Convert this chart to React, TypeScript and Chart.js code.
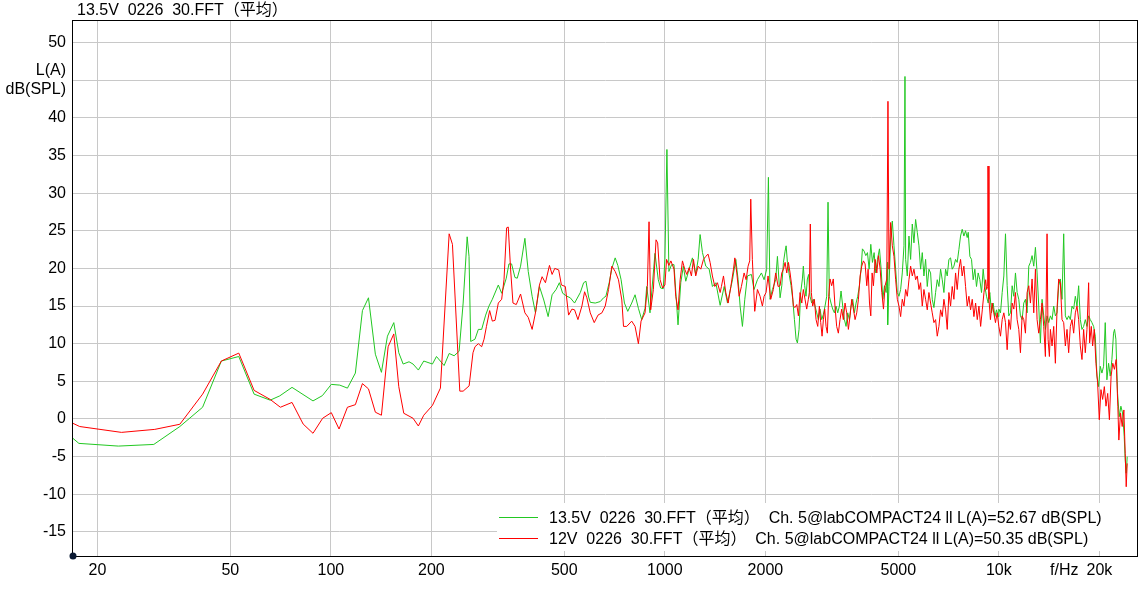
import React, { useEffect, useRef } from "react";
import { Chart, registerables } from "chart.js";

Chart.register(...registerables);

// ---------- tick labels ----------
const X_TICKS = [20, 50, 100, 200, 500, 1000, 2000, 5000, 10000, 15700, 20000];
const X_TICK_LABELS = ["20", "50", "100", "200", "500", "1000", "2000", "5000", "10k", "f/Hz", "20k"];
const AXIS_NAME_TICK = 15700;
const Y_TICKS = [-15, -10, -5, 0, 5, 10, 15, 20, 25, 30, 35, 40, 45, 50];
const Y_UNIT_TICK = 45;
const Y_UNIT_LABEL = ["L(A)", "dB(SPL)"];

const TITLE = "13.5V  0226  30.FFT（平均）";
const SERIES_LABELS = [
  "13.5V  0226  30.FFT（平均）  Ch. 5@labCOMPACT24 ll L(A)=52.67 dB(SPL)",
  "12V  0226  30.FFT（平均）  Ch. 5@labCOMPACT24 ll L(A)=50.35 dB(SPL)",
];

// ---------- series: 13.5V (green) ----------
const greenFreq = [
  16.9, 17.6, 23.1, 29.5, 35.3, 41.3, 47.0, 53.0, 58.9, 65.8, 70.3, 76.5, 88.4, 94.3, 100.3, 106.3, 112.1, 118.4,
  124.3, 129.6, 135.9, 141.7, 147.7, 154.3, 159.7, 164.6, 171.4, 176.2, 182.8, 189.7, 201.4, 207.1, 218.3, 226,
  233.9, 242.1, 248.9, 255.9,
  259.2, 262.2, 270.1, 276.4, 282.8, 290.7, 297.4, 304.4, 317.2, 324.6, 335.1, 341.3, 347.6, 355.7, 361.4, 369.8,
  381.0, 389.9, 400.5, 409.8, 421.2, 434.0, 447.2, 459.6, 472.4, 483.2, 494.3, 509.2, 520.9, 536.6, 558.3, 571.2,
  580.4, 591.2, 597.9, 618.8, 640.5, 655.3, 665.9, 681.3, 693.9, 710.0, 723.0, 739.6, 756.8, 774.3, 795.8, 814.2,
  833.2, 852.5, 872.3, 882.3, 902.6, 934.1, 955.7, 971.2, 989.0, 1000.4, 1014.3, 1028.2, 1047.4,
  1065, 1095, 1116, 1136, 1155, 1182, 1209, 1237, 1258, 1275, 1296, 1326, 1357, 1388, 1421, 1464, 1505, 1540,
  1594, 1631, 1657, 1680, 1707, 1735, 1767, 1816, 1849, 1893, 1946, 1982, 2018, 2042, 2065, 2099, 2147, 2173,
  2213, 2239, 2265, 2291, 2307, 2328, 2360, 2387, 2415, 2443, 2471, 2494, 2522, 2551, 2581, 2598, 2622, 2646,
  2671, 2695, 2720, 2752, 2784, 2816, 2849, 2882, 2915, 2949, 2983, 3017, 3052, 3080, 3108, 3144, 3181, 3218,
  3255, 3293, 3331, 3369, 3408, 3448, 3488, 3528, 3569, 3610, 3652, 3694, 3737, 3780, 3824, 3868, 3904, 3950,
  3996, 4042, 4089, 4136, 4184, 4232, 4281, 4331, 4391, 4442, 4493, 4545, 4598, 4640, 4646,
  4689, 4743, 4798, 4853, 4909, 4966, 5023, 5081, 5139, 5199, 5235, 5259, 5320,
  5381, 5443, 5506, 5569, 5634, 5699, 5765, 5831, 5898, 5966, 6035, 6105, 6175, 6246, 6318, 6391, 6465, 6540,
  6615, 6692, 6769, 6847, 6926, 7006, 7087, 7169, 7251, 7335, 7420, 7505, 7592, 7680, 7768, 7858, 7949, 8041,
  8097, 8190, 8283, 8378, 8475, 8573, 8672, 8772, 8874, 8976, 9080, 9185, 9291, 9398, 9507, 9617, 9728, 9841,
  9954,
  10000, 10115, 10232, 10350, 10469, 10590, 10711, 10835, 10960, 11086, 11214, 11343, 11474, 11606, 11740, 11875,
  12012, 12151, 12291, 12433, 12576, 12721, 12868, 13016, 13166, 13318, 13472, 13627, 13784, 13943, 14104, 14267,
  14431, 14597, 14766, 14936, 15108, 15282, 15458, 15637, 15817, 15999, 16183, 16370, 16559, 16750, 16943, 17138,
  17336, 17536, 17738, 17942, 18149, 18358, 18570, 18784, 19000, 19219, 19441, 19665, 19891, 20121, 20353, 20587,
  20824, 21064, 21307, 21553, 21801, 22052, 22205, 22410, 22669, 22930, 23194, 23462, 23732, 23896, 24062, 24229,
];
const greenLevel = [
  -2.58, -3.24, -3.6, -3.38, -1.0, 1.56, 7.7, 8.3, 3.3, 2.5, 3.07, 4.2, 2.4, 3.1, 4.6, 4.5, 4.1, 6.1,
  14.4, 16.1, 8.6, 6.2, 11.0, 12.8, 8.8, 7.3, 7.6, 7.3, 6.5, 7.7, 7.3, 8.3, 7.1, 8.7,
  8.4, 9.0, 15.4, 24.2,
  21.6, 10.3, 10.6, 11.9, 11.9, 13.8, 15.0, 15.9, 17.8, 16.7, 18.7, 20.6, 20.6, 18.8, 18.7, 20.3,
  24.0, 19.6, 16.3, 14.1, 17.6, 15.8, 13.6, 16.5, 17.2, 18.1, 16.7, 16.3, 16.1, 15.4, 16.8, 18.1,
  18.3, 16.2, 15.5, 15.4, 15.6, 16.1, 16.3, 18.1, 20.0, 21.4, 20.4, 18.5, 15.4, 14.3, 15.4, 16.5,
  14.7, 13.2, 14.7, 17.6, 14.1, 22.0, 18.5, 17.4, 17.3, 21.2, 35.8, 19.6, 20.5,
  20.5, 12.5, 18.1, 20.3, 18.3, 19.9, 21.4, 19.2, 21.2, 24.5, 22.1, 20.3, 19.9, 17.6, 18.1, 15.1, 17.6, 15.4,
  18.5, 21.2, 18.5, 15.0, 12.3, 15.9, 19.0, 19.2, 17.2, 18.5, 19.4, 18.5, 19.9, 32.1, 15.9, 17.2, 18.5, 21.6,
  16.1, 17.7, 20.8, 22.3, 23.0, 20.8, 19.0, 17.7, 15.9, 13.2, 10.6, 10.1, 11.9, 16.8, 18.6, 20.3, 17.7, 16.3,
  18.6, 19.2, 16.3, 15.4, 15.9, 15.0, 14.1, 13.2, 14.6, 13.2, 13.9, 15.0, 16.3, 28.8, 16.3, 15.4, 14.6, 14.1,
  15.0, 14.1, 15.0, 17.0, 15.0, 13.2, 12.3, 14.1, 13.2, 15.0, 15.9, 14.1, 15.4, 16.3, 17.7, 19.9, 22.6, 22.3,
  21.7, 22.1, 19.9, 23.2, 20.8, 22.1, 19.4, 21.2, 22.6, 19.9, 15.9, 17.7, 16.8, 20.8, 12.5,
  17.6, 23.9, 26.3, 23.0, 19.9, 16.8, 16.3, 17.2, 19.4, 23.0, 45.5, 21.2, 19.0,
  24.3, 21.2, 25.9, 23.4, 26.5, 24.8, 23.0, 19.9, 22.1, 19.0, 21.2, 17.6, 19.9, 19.4, 15.9, 14.8, 16.8, 18.5,
  17.6, 19.9, 18.5, 16.8, 19.9, 19.0, 21.2, 21.4, 19.9, 20.3, 21.2, 20.8, 22.5, 24.3, 25.2, 24.3, 25.0, 24.1,
  24.8, 21.6, 21.2, 18.5, 19.9, 17.6, 19.4, 18.5, 16.8, 19.9, 17.6, 16.3, 15.4, 16.8, 14.1, 15.4, 13.6, 14.5,
  13.6,
  14.6, 14.1, 16.8, 19.0, 24.6, 17.7, 13.7, 14.1, 17.7, 16.3, 19.4, 16.8, 15.9, 13.7, 13.2, 15.4,
  15.9, 14.1, 20.3, 20.8, 21.7, 20.3, 22.8, 19.4, 15.0, 10.1, 15.9, 13.7, 11.9, 13.7, 12.8, 13.7,
  13.2, 15.0, 13.7, 14.1, 17.7, 18.6, 15.9, 24.6, 13.7, 13.2, 13.7, 13.2, 15.0, 14.6, 16.3, 15.0,
  17.7, 13.2, 11.9, 12.3, 13.2, 12.3, 13.7, 13.2, 12.8, 12.3, 11.0, 5.7, 4.3, 7.0, 6.1, 7.0,
  12.8, 5.2, 7.4, 5.7, 7.9, 11.4, 11.9, 10.6, 3.4, 0.3, 1.7, 0.8, -2.3, -5.4, -7.2, -5.0,
];

// ---------- series: 12V (red) ----------
const redFreq = [
  16.9, 17.7, 23.6, 29.7, 35.3, 41.3, 47.0, 53.0, 58.9, 65.8, 70.6, 76.5, 82.6, 88.4, 94.5, 100.3, 105.8, 112.1,
  118.4, 124.3, 129.6, 135.9, 141.7, 148.4, 154.3, 159.7, 165.3, 176.2, 182.8, 189.7, 201.4, 212.8, 226, 231.2,
  243.2, 248.9, 259.4,
  266.4, 270.1, 276.4, 282.8, 287.5, 292.3, 298.8, 304.4, 310.1, 317.2, 324.6, 329.9, 335.9, 339.7, 345.3, 350.9,
  359.0, 369.8, 381.0, 389.9, 400.5, 409.8, 421.2, 429.0, 439.0, 451.3, 459.6, 468.1, 481.0, 490.0, 503.5, 515.0,
  526.9, 536.6, 549.3, 564.5, 575.0, 584.1, 597.9, 614.5, 630.7, 648.0, 662.9, 678.2, 693.9, 710.0, 726.3, 743.2,
  751.9, 769.0, 795.8, 814.2, 833.2, 848.6, 872.3, 886.4, 896.7, 907.0, 923.8, 941.0, 951.6, 967.6, 985.0, 1000.4,
  1011.9, 1028.2, 1042.5,
  1065, 1078, 1095, 1111, 1129, 1147, 1163, 1182, 1201, 1218, 1237, 1258, 1281, 1305, 1326, 1347, 1366, 1388,
  1411, 1437, 1464, 1477, 1498, 1522, 1547, 1576, 1605, 1620, 1642, 1669, 1695, 1727, 1751, 1775, 1795, 1808,
  1828, 1858, 1893, 1928, 1959, 1982, 2009, 2037, 2075, 2113, 2147, 2183,
  2213, 2239, 2265, 2291, 2317, 2344, 2371, 2398, 2426, 2454, 2483, 2511, 2540, 2570, 2598, 2628, 2659, 2689,
  2707, 2726, 2745, 2771, 2803, 2836, 2869, 2902, 2929, 2956, 2983, 3010, 3038, 3066, 3094, 3122, 3158, 3194,
  3231, 3269, 3307, 3345, 3384, 3423, 3463, 3503, 3544, 3585, 3627, 3669, 3711, 3754, 3798, 3842, 3886, 3931,
  3977, 4023, 4061, 4099, 4136, 4174, 4212, 4261, 4311, 4361, 4412, 4463, 4514, 4565, 4618,
  4656, 4689, 4743, 4798, 4853, 4909, 4966, 5023, 5081, 5139, 5199, 5259,
  5320, 5381, 5443, 5506, 5569, 5634, 5699, 5765, 5831, 5898, 5966, 6035, 6105, 6175, 6246, 6318, 6391, 6465,
  6540, 6615, 6692, 6769, 6847, 6926, 7006, 7087, 7169, 7251, 7335, 7420, 7505, 7592, 7680, 7768, 7858, 7949,
  8041, 8134, 8229, 8324, 8421, 8519, 8618, 8718, 8820, 8922, 9026, 9131, 9194, 9257, 9280, 9340, 9436, 9546,
  9657, 9770, 9883,
  10000, 10115, 10232, 10350, 10469, 10590, 10711, 10835, 10960, 11086, 11214, 11343, 11474, 11606, 11740, 11875,
  12012, 12151, 12291, 12433, 12576, 12721, 12868, 13016, 13166, 13318, 13472, 13627, 13784, 13943, 14040, 14170,
  14267, 14431, 14597, 14766, 14936, 15108, 15282, 15458, 15637, 15817, 15999, 16183, 16370, 16559, 16750, 16943,
  17138, 17336, 17536, 17738, 17942, 18149, 18358, 18570, 18698, 18914, 19088, 19307, 19530, 19756, 19986, 20218,
  20454, 20693, 20935, 21180, 21428, 21680, 21934, 22191, 22451, 22713, 22872, 23138, 23408, 23680, 23896, 24062,
  24229,
];
const redLevel = [
  -0.58, -1.0, -1.78, -1.38, -0.7, 3.3, 7.7, 8.75, 3.8, 2.6, 1.56, 2.2, -0.67, -1.9, 0.1, 0.84, -1.33, 1.56,
  1.9, 4.7, 4.0, 0.9, 0.5, 9.6, 11.3, 4.3, 0.76, 0.1, -0.93, 0.5, 1.8, 4.1, 24.6, 23.2,
  3.7, 3.7, 4.4,
  8.8, 9.6, 10.0, 9.6, 10.6, 12.3, 14.4, 13.0, 13.1, 15.4, 15.9, 18.5, 25.4, 25.5, 19.8, 15.4,
  15.2, 16.6, 14.1, 13.5, 11.9, 14.1, 17.8, 18.9, 18.1, 20.4, 19.2, 20.0, 19.8, 17.8, 17.6, 13.8,
  14.6, 14.5, 13.2, 15.0, 16.9, 16.1, 14.1, 12.8, 13.8, 14.1, 15.0, 17.2, 20.3, 19.6, 18.5, 15.8,
  12.3, 12.3, 13.0, 12.3, 10.0, 13.0, 14.1, 17.6, 26.2, 14.5, 17.2, 23.8, 23.4, 18.5, 17.4, 17.8,
  21.2, 20.4, 21.0,
  19.9, 16.3, 14.5, 18.5, 21.0, 19.9, 19.2, 20.1, 19.0, 21.2, 19.0, 20.3, 19.9, 21.2, 21.6, 21.9, 20.8, 19.0,
  17.6, 18.1, 16.8, 17.6, 19.0, 16.8, 15.4, 17.6, 19.9, 21.4, 19.4, 16.3, 17.6, 19.4, 18.5, 20.3, 21.0, 29.2,
  21.2, 14.3, 17.2, 16.3, 15.0, 16.3, 16.8, 19.0, 15.9, 17.2, 19.4, 17.6,
  17.7, 19.4, 19.9, 20.8, 19.4, 20.8, 19.4, 17.7, 15.0, 14.8, 15.2, 13.7, 16.8, 15.4, 17.2, 15.9, 14.6, 15.9,
  16.8, 25.9, 16.8, 15.0, 15.9, 13.2, 12.3, 15.0, 12.8, 11.0, 13.2, 14.6, 12.3, 11.4, 16.3, 18.6, 17.7, 18.6,
  15.0, 12.3, 11.4, 13.2, 14.6, 13.2, 15.4, 14.1, 11.9, 13.7, 15.9, 14.6, 13.2, 14.1, 15.9, 19.0, 20.3, 21.0,
  20.6, 17.7, 19.9, 15.4, 13.7, 19.4, 17.7, 21.2, 19.4, 21.7, 19.9, 16.8, 14.6, 17.7, 18.6,
  42.2, 19.9, 26.1, 23.0, 21.6, 18.5, 15.9, 15.0, 13.6, 15.9, 15.0, 17.2,
  16.3, 18.5, 20.3, 19.0, 19.9, 18.5, 19.0, 17.2, 18.1, 15.0, 17.2, 15.9, 14.5, 16.8, 15.4, 14.1, 12.8, 13.2,
  11.0, 12.3, 14.5, 13.6, 15.9, 14.5, 11.9, 16.8, 15.0, 17.6, 15.9, 19.4, 17.2, 19.9, 21.2, 19.0, 20.3, 17.6,
  15.0, 16.3, 14.5, 15.9, 13.6, 15.4, 13.2, 15.0, 12.3, 14.5, 16.8, 18.5, 17.2, 17.6, 33.6, 15.9, 13.2, 15.4,
  14.1, 12.8, 14.1,
  12.3, 11.0, 13.2, 14.1, 12.8, 9.2, 13.2, 11.9, 15.4, 14.6, 16.8, 13.2, 11.9, 8.8, 13.7, 13.2,
  11.4, 16.8, 17.7, 15.4, 18.6, 14.1, 19.9, 13.2, 11.4, 13.2, 15.4, 12.3, 8.3, 24.6, 10.6, 8.3,
  11.9, 9.7, 12.3, 7.4, 14.6, 18.6, 18.1, 13.2, 12.8, 9.7, 11.9, 8.8, 12.3, 13.2, 11.4, 14.1,
  15.0, 13.2, 9.7, 7.9, 11.9, 8.8, 11.9, 18.1, 10.1, 12.3, 9.7, 11.9, 7.4, 4.8, -0.1, 3.9,
  2.6, 4.3, 1.7, 3.4, -0.1, 5.7, 7.4, 6.6, 7.9, 1.7, -2.8, 0.8, -1.0, 1.2, -4.6, -9.0,
  -5.9,
];

const GREEN = "#22c822";
const RED = "#ff0000";
const GRID = "#c8c8c8";
const FONT = "'Liberation Sans', Arial, 'Noto Sans CJK SC', sans-serif";

const toPoints = (fs: number[], vs: number[]) => fs.map((f, i) => ({ x: f, y: vs[i] }));

const overlayPlugin = {
  id: "overlay",
  beforeDraw(chart: any) {
    const c = chart.ctx;
    c.save();
    c.fillStyle = "#ffffff";
    c.fillRect(0, 0, chart.width, chart.height);
    c.restore();
  },
  afterDraw(chart: any) {
    const c = chart.ctx;
    const a = chart.chartArea;
    c.save();
    // frame
    c.strokeStyle = "#000000";
    c.lineWidth = 1;
    c.strokeRect(Math.round(a.left) - 0.5, Math.round(a.top) + 0.5, Math.round(a.right - a.left), Math.round(a.bottom - a.top));
    // title
    c.fillStyle = "#000000";
    c.font = `16px ${FONT}`;
    c.textBaseline = "alphabetic";
    c.textAlign = "left";
    c.fillText(TITLE, a.left + 4, 15);
    // legend box
    const lx = 497;
    const ly = 503;
    c.fillStyle = "#ffffff";
    c.fillRect(lx, ly, a.right - lx - 1, a.bottom - ly - 5);
    const ds = chart.data.datasets;
    [0, 1].forEach((i) => {
      const d = ds[i];
      const y = 517.5 + i * 21;
      c.strokeStyle = d.borderColor;
      c.lineWidth = 1;
      c.beginPath();
      c.moveTo(499, y);
      c.lineTo(538, y);
      c.stroke();
      c.fillStyle = "#000000";
      c.font = `16px ${FONT}`;
      c.textBaseline = "alphabetic";
      c.fillText(d.label, 549, y + 5.5);
    });
    // origin dot
    c.fillStyle = "#0b1a33";
    c.beginPath();
    c.arc(a.left, a.bottom, 3.5, 0, Math.PI * 2);
    c.fill();
    c.restore();
  },
};

export default function App() {
  const ref = useRef<HTMLCanvasElement | null>(null);
  useEffect(() => {
    document.body.style.margin = "0";
    Chart.defaults.font.family = FONT;
    Chart.defaults.font.size = 16;
    Chart.defaults.color = "#000000";
    const chart = new Chart(ref.current as HTMLCanvasElement, {
      type: "line",
      data: {
        datasets: [
          {
            label: SERIES_LABELS[0],
            data: toPoints(greenFreq, greenLevel),
            borderColor: GREEN,
            backgroundColor: GREEN,
            borderWidth: 1,
            pointRadius: 0,
            tension: 0,
            order: 1,
          },
          {
            label: SERIES_LABELS[1],
            data: toPoints(redFreq, redLevel),
            borderColor: RED,
            backgroundColor: RED,
            borderWidth: 1,
            pointRadius: 0,
            tension: 0,
            order: 0,
          },
        ],
      },
      options: {
        responsive: false,
        animation: false,
        events: [],
        layout: { padding: { top: 20, right: 4, left: 0, bottom: 0 } },
        plugins: { legend: { display: false }, title: { display: false }, tooltip: { enabled: false } },
        scales: {
          x: {
            type: "logarithmic",
            min: 16.9,
            max: 26100,
            afterBuildTicks: (scale: any) => {
              scale.ticks = X_TICKS.map((v) => ({ value: v }));
            },
            afterFit: (scale: any) => {
              scale.height = 34;
              scale.paddingLeft = 0;
              scale.paddingRight = 0;
            },
            ticks: {
              autoSkip: false,
              maxRotation: 0,
              minRotation: 0,
              padding: 5,
              color: "#000000",
              font: { size: 16, family: FONT },
              callback: (v: any) => {
                const i = X_TICKS.indexOf(Number(v));
                return i >= 0 ? X_TICK_LABELS[i] : "";
              },
            },
            grid: {
              drawTicks: false,
              lineWidth: 1,
              color: (ctx: any) => (ctx.tick && ctx.tick.value === AXIS_NAME_TICK ? "rgba(0,0,0,0)" : GRID),
            },
            border: { display: false },
          },
          y: {
            type: "linear",
            min: -18.2,
            max: 53,
            afterBuildTicks: (scale: any) => {
              scale.ticks = Y_TICKS.map((v) => ({ value: v }));
            },
            afterFit: (scale: any) => {
              scale.width = 73;
              scale.paddingTop = 0;
              scale.paddingBottom = 0;
            },
            ticks: {
              autoSkip: false,
              padding: 7,
              color: "#000000",
              font: { size: 16, family: FONT },
              callback: (v: any) => (Number(v) === Y_UNIT_TICK ? Y_UNIT_LABEL : String(v)),
            },
            grid: { drawTicks: false, lineWidth: 1, color: GRID },
            border: { display: false },
          },
        },
      },
      plugins: [overlayPlugin],
    });
    return () => chart.destroy();
  }, []);
  return <canvas ref={ref} width={1142} height={590} style={{ display: "block" }} />;
}
